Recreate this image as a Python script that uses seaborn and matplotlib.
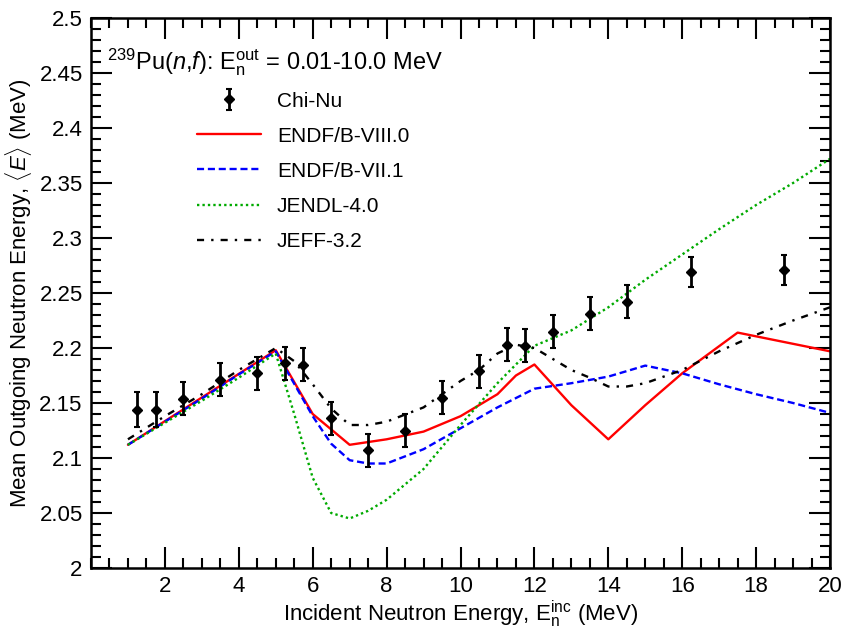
import matplotlib
matplotlib.use("Agg")
import matplotlib.pyplot as plt
import seaborn as sns
import numpy as np
import pandas as pd

# ---- Data ----
chinu_x = [1.25, 1.75, 2.5, 3.5, 4.5, 5.25, 5.75, 6.5, 7.5, 8.5, 9.5, 10.5,
           11.25, 11.75, 12.5, 13.5, 14.5, 16.25, 18.75]
chinu_y = [2.144, 2.144, 2.154, 2.171, 2.177, 2.186, 2.185, 2.136, 2.107, 2.125,
           2.155, 2.179, 2.203, 2.202, 2.215, 2.231, 2.242, 2.269, 2.271]
chinu_err = [0.016, 0.016, 0.015, 0.015, 0.015, 0.015, 0.015, 0.015, 0.015, 0.015,
             0.015, 0.015, 0.015, 0.015, 0.015, 0.015, 0.015, 0.014, 0.014]

e80_x = [1, 5, 6, 7, 8, 9, 10, 11, 11.5, 12, 13, 14, 15, 16, 17.5, 20]
e80_y = [2.112, 2.198, 2.140, 2.112, 2.117, 2.124, 2.138, 2.158, 2.175, 2.185,
         2.148, 2.117, 2.148, 2.177, 2.214, 2.197]

e71_x = [1, 2, 3, 4, 5, 6, 6.5, 7, 7.5, 8, 9, 10, 11, 12, 13, 14, 15, 16, 17, 18, 19, 20]
e71_y = [2.112, 2.133, 2.154, 2.176, 2.197, 2.138, 2.113, 2.098, 2.095, 2.095, 2.108,
         2.127, 2.146, 2.163, 2.168, 2.174, 2.184, 2.177, 2.167, 2.158, 2.150, 2.141]

jendl_x = [1, 2, 3, 4, 5, 5.5, 6, 6.5, 7, 7.5, 8, 9, 10, 11, 12, 13, 14, 15, 16, 17,
           18, 19, 20]
jendl_y = [2.112, 2.132, 2.152, 2.173, 2.195, 2.140, 2.082, 2.050, 2.045, 2.052,
           2.062, 2.090, 2.130, 2.168, 2.202, 2.216, 2.237, 2.262, 2.285, 2.308,
           2.330, 2.350, 2.372]

jeff_x = [1, 2, 3, 4, 5, 5.5, 6, 6.5, 7, 7.5, 8, 9, 10, 10.5, 11, 11.5, 12, 12.5,
          13, 13.5, 14, 14.5, 15, 16, 17, 18, 19, 20]
jeff_y = [2.117, 2.138, 2.158, 2.180, 2.200, 2.188, 2.167, 2.145, 2.130, 2.130,
          2.133, 2.146, 2.170, 2.180, 2.195, 2.203, 2.200, 2.190, 2.180, 2.173,
          2.165, 2.165, 2.168, 2.180, 2.197, 2.212, 2.225, 2.237]

title_text = r"$^{239}$Pu($\it{n}$,$\it{f}$): E$_{\rm n}^{\rm out}$ = 0.01-10.0 MeV"
xlabel_text = r"Incident Neutron Energy, E$_{\rm n}^{\rm inc}$ (MeV)"
ylabel_text = r"Mean Outgoing Neutron Energy, $\langle \it{E} \rangle$ (MeV)"

# ---- Style ----
sns.set_style("ticks")
plt.rcParams["font.family"] = ["Liberation Sans", "DejaVu Sans"]
plt.rcParams["mathtext.fontset"] = "custom"
plt.rcParams["mathtext.rm"] = "Liberation Sans"
plt.rcParams["mathtext.it"] = "Liberation Sans:italic"
plt.rcParams["mathtext.bf"] = "Liberation Sans:bold"
plt.rcParams["text.color"] = "black"
plt.rcParams["axes.labelcolor"] = "black"
plt.rcParams["xtick.color"] = "black"
plt.rcParams["ytick.color"] = "black"
plt.rcParams["axes.edgecolor"] = "black"

fig = plt.figure(figsize=(8.47, 6.30), dpi=100)
ax = fig.add_axes([91 / 847, 62 / 630, 739 / 847, 550 / 630])

lines = [
    ("ENDF/B-VIII.0", e80_x, e80_y, "#ff0000", "-"),
    ("ENDF/B-VII.1", e71_x, e71_y, "#0000ff", (0, (3, 1.6))),
    ("JENDL-4.0", jendl_x, jendl_y, "#00aa00", (0, (1, 1.3))),
    ("JEFF-3.2", jeff_x, jeff_y, "black", (0, (3, 3, 1, 3))),
]
for label, xs, ys, col, ls in lines:
    df = pd.DataFrame({"x": xs, "y": ys})
    sns.lineplot(data=df, x="x", y="y", ax=ax, color=col, linewidth=1.7,
                 estimator=None, sort=False, label=label)
    ax.lines[-1].set_linestyle(ls)

eb = ax.errorbar(chinu_x, chinu_y, yerr=chinu_err, fmt="D", color="black",
                 markersize=5.5, elinewidth=2.0, capsize=2.5, capthick=1.5,
                 label="Chi-Nu", zorder=5)

h, l = ax.get_legend_handles_labels()
order = [l.index("Chi-Nu")] + [l.index(n) for n, *_ in lines]
leg = ax.legend([h[i] for i in order], [l[i] for i in order],
                loc="upper left", bbox_to_anchor=(0.143, 0.866),
                frameon=False, fontsize=15, handlelength=3.1,
                handletextpad=0.75, labelspacing=0.77, borderpad=0,
                borderaxespad=0)

ax.text(0.021, 0.92, title_text, transform=ax.transAxes, fontsize=17,
        ha="left", va="center")

ax.set_xlim(0, 20)
ax.set_ylim(2.0, 2.5)
ax.set_xticks(np.arange(2, 21, 2))
ax.set_xticks(np.arange(0, 20.01, 0.5), minor=True)
ax.set_yticks(np.arange(2.0, 2.501, 0.05))
ax.set_yticks(np.arange(2.0, 2.501, 0.01), minor=True)
ax.set_yticklabels(["2", "2.05", "2.1", "2.15", "2.2", "2.25", "2.3", "2.35",
                    "2.4", "2.45", "2.5"])
ax.tick_params(which="both", direction="in", top=True, right=True,
               width=1.5, labelsize=16, pad=6, colors="black")
ax.tick_params(which="major", length=15)
ax.tick_params(which="minor", length=7.5)
for s in ax.spines.values():
    s.set_linewidth(1.8)
    s.set_color("black")
    s.set_visible(True)

ax.set_xlabel(xlabel_text, fontsize=16, labelpad=1, loc="center")
ax.set_ylabel(ylabel_text, fontsize=16, labelpad=4)

fig.savefig("out.png", dpi=100)
